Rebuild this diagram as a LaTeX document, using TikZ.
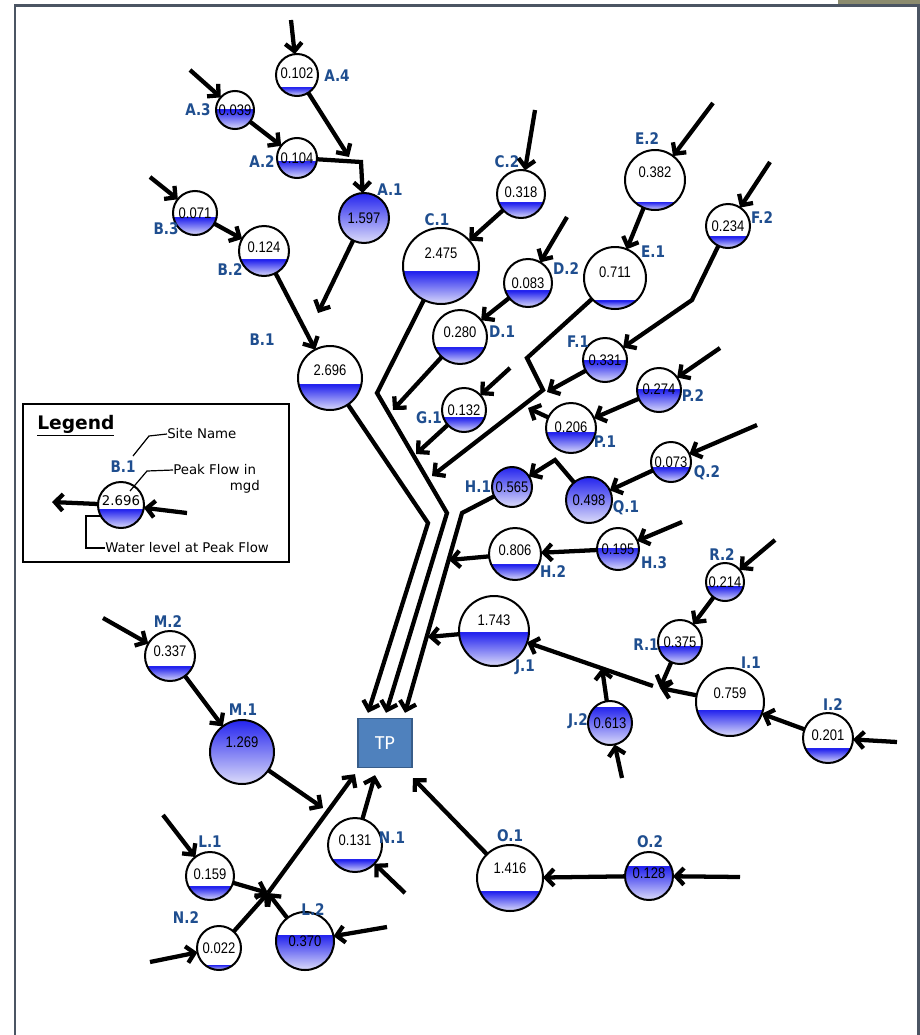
\documentclass[tikz,border=0pt]{standalone}
\usepackage{fontspec}
\usetikzlibrary{arrows.meta,calc}
\setmainfont{DejaVu Sans}
\newfontfamily\valfont[FakeStretch=0.85]{Liberation Sans}
\newfontfamily\labfont[FakeStretch=0.85]{DejaVu Sans}
\newfontfamily\tpfont{Carlito}
\definecolor{labblue}{HTML}{1F4E8F}
\definecolor{wtop}{HTML}{2424EE}
\definecolor{wbot}{HTML}{DCDCFA}
\definecolor{framec}{HTML}{4B5563}
\definecolor{topbar}{HTML}{8B8B6E}
\definecolor{tpfill}{HTML}{4F81BD}
\definecolor{tpdraw}{HTML}{385D8A}
\tikzset{
  site/.style={circle,draw=black,line width=1.5pt,inner sep=0pt,outer sep=0pt},
  val/.style={font=\valfont\fontsize{11.5}{12}\selectfont,inner sep=0pt},
  labs/.style={font=\labfont\bfseries\fontsize{12}{13}\selectfont,text=labblue,inner sep=0pt},
  water/.style={top color=wtop,bottom color=wbot},
  flow/.style={line width=3.2pt,-{Straight Barb[length=6pt,width=12.5pt]}},
  ptr/.style={line width=0.9pt},
  lgtxt/.style={font=\fontsize{10}{12}\selectfont,inner sep=0pt},
  tpbox/.style={draw=tpdraw,fill=tpfill,line width=1pt,minimum width=40.5pt,minimum height=36.75pt,text=white,font=\tpfont\fontsize{15}{16}\selectfont},
  frame/.style={draw=framec,line width=1.8pt}
}
% #1 name, #2 x, #3 y, #4 radius, #5 water level, #6 value, #7 text dy
\newcommand\mksite[7]{%
  \begin{scope}
    \clip (#2,#3) circle[radius=#4];
    \shade[water] ({#2-#4},{#3+#4}) rectangle ({#2+#4},{#3+#4-2*#4*#5});
    \draw[line width=1pt,wtop] ({#2-#4},{#3+#4-2*#4*#5}) -- ({#2+#4},{#3+#4-2*#4*#5});
  \end{scope}
  \node[site,minimum size=1.5pt*#4] (#1) at (#2,#3) {};
  \node[val] (#1v) at (#2,{#3+(#7)}) {#6};
}
\newcommand\sitelab[4]{\node[labs] (#1l) at (#2,#3) {#4};}

\begin{document}
\begin{tikzpicture}[x=0.75pt,y=-0.75pt]
\useasboundingbox (0,0) rectangle (920,1035);
\fill[white] (0,0) rectangle (920,1035);
\fill[topbar] (838,0) rectangle (920,4);
\draw[frame] (15,1035) -- (15,5.5) -- (918.5,5.5) -- (918.5,1035);

% sites
\mksite{A4}{297}{75}{21}{0.2}{0.102}{-2}
\mksite{A3}{235}{110}{19}{0.5}{0.039}{0}
\mksite{A2}{297}{158}{20}{0.42}{0.104}{0}
\mksite{A1}{364}{218}{25}{1}{1.597}{0}
\mksite{B3}{195}{213}{22}{0.39}{0.071}{0}
\mksite{B2}{264}{251}{25}{0.32}{0.124}{-4}
\mksite{B1}{330}{378}{32}{0.39}{2.696}{-8}
\mksite{C2}{521}{194}{24}{0.31}{0.318}{-2}
\mksite{C1}{441}{266}{38}{0.42}{2.475}{-13}
\mksite{D2}{528}{283}{24}{0.33}{0.083}{0}
\mksite{D1}{460}{337}{27}{0.3}{0.280}{-5}
\mksite{E2}{655}{180}{30}{0.13}{0.382}{-8}
\mksite{E1}{615}{278}{31}{0.13}{0.711}{-6}
\mksite{F2}{728}{226}{22}{0.25}{0.234}{0}
\mksite{F1}{605}{360}{22}{0.48}{0.331}{0}
\mksite{P2}{659}{390}{22}{0.5}{0.274}{-1}
\mksite{P1}{571}{428}{25}{0.4}{0.206}{-1}
\mksite{G1}{464}{410}{22}{0.32}{0.132}{0}
\mksite{Q2}{671}{462}{20}{0.35}{0.073}{0}
\mksite{Q1}{589}{500}{23}{1}{0.498}{0}
\mksite{H1}{512}{487}{20}{1}{0.565}{0}
\mksite{H3}{618}{549}{21}{0.52}{0.195}{0}
\mksite{H2}{515}{554}{26}{0.29}{0.806}{-4}
\mksite{R2}{725}{582}{19}{0.37}{0.214}{0}
\mksite{R1}{680}{642}{22}{0.39}{0.375}{0}
\mksite{I1}{730}{702}{34}{0.38}{0.759}{-9}
\mksite{I2}{828}{738}{25}{0.28}{0.201}{-3}
\mksite{J1}{494}{631}{35}{0.47}{1.743}{-11}
\mksite{J2}{610}{723}{22}{0.86}{0.613}{0}
\mksite{M2}{170}{656}{25}{0.28}{0.337}{-5}
\mksite{M1}{242}{752}{32}{1}{1.269}{-10}
\mksite{L1}{210}{876}{24}{0.27}{0.159}{-2}
\mksite{N2}{219}{948}{22}{0.11}{0.022}{0}
\mksite{L2}{305}{941}{29}{0.6}{0.370}{0}
\mksite{N1}{355}{845}{27}{0.22}{0.131}{-5}
\mksite{O1}{510}{878}{33}{0.29}{1.416}{-10}
\mksite{O2}{649}{876}{24}{0.69}{0.128}{-3}

% labels
\sitelab{A4}{337}{76}{A.4}
\sitelab{A3}{198}{110}{A.3}
\sitelab{A2}{262}{162}{A.2}
\sitelab{A1}{390}{190}{A.1}
\sitelab{B3}{166}{229}{B.3}
\sitelab{B2}{230}{270}{B.2}
\sitelab{B1}{262}{340}{B.1}
\sitelab{C2}{507}{162}{C.2}
\sitelab{C1}{437}{220}{C.1}
\sitelab{D2}{566}{269}{D.2}
\sitelab{D1}{502}{332}{D.1}
\sitelab{E2}{647}{139}{E.2}
\sitelab{E1}{653}{252}{E.1}
\sitelab{F2}{762}{218}{F.2}
\sitelab{F1}{578}{342}{F.1}
\sitelab{P2}{693}{396}{P.2}
\sitelab{P1}{605}{442}{P.1}
\sitelab{G1}{429}{418}{G.1}
\sitelab{Q2}{707}{473}{Q.2}
\sitelab{Q1}{626}{508}{Q.1}
\sitelab{H1}{478}{487}{H.1}
\sitelab{H3}{654}{563}{H.3}
\sitelab{H2}{553}{572}{H.2}
\sitelab{R2}{722}{555}{R.2}
\sitelab{R1}{646}{645}{R.1}
\sitelab{I1}{751}{663}{I.1}
\sitelab{I2}{833}{705}{I.2}
\sitelab{J1}{525}{667}{J.1}
\sitelab{J2}{578}{721}{J.2}
\sitelab{M2}{168}{622}{M.2}
\sitelab{M1}{243}{710}{M.1}
\sitelab{L1}{210}{842}{L.1}
\sitelab{N2}{186}{918}{N.2}
\sitelab{L2}{313}{910}{L.2}
\sitelab{N1}{392}{838}{N.1}
\sitelab{O1}{510}{836}{O.1}
\sitelab{O2}{650}{842}{O.2}

% treatment plant
\node[tpbox] (TP) at (385,743) {TP};

% free ends and junctions
\coordinate (tA4) at (291,20);
\coordinate (tA3) at (190,70);
\coordinate (tB3) at (150,177);
\coordinate (tC2) at (535,110);
\coordinate (tD2) at (567,217);
\coordinate (tE2) at (713,103);
\coordinate (tF2) at (770,162);
\coordinate (tG1) at (510,368);
\coordinate (tP2) at (720,348);
\coordinate (tQ2) at (757,425);
\coordinate (tH3) at (682,522);
\coordinate (tR2) at (775,540);
\coordinate (tI2) at (897,742);
\coordinate (tJ2) at (622,778);
\coordinate (tM2) at (103,618);
\coordinate (tL1) at (163,815);
\coordinate (tN2) at (150,962);
\coordinate (tL2) at (387,927);
\coordinate (tN1) at (405,893);
\coordinate (tO2) at (740,877);
\coordinate (jA4) at (349,157);
\coordinate (bA2) at (361,162);
\coordinate (jA1) at (318,313);
\coordinate (bB1) at (428,523);
\coordinate (bC1a) at (377,393);
\coordinate (bC1b) at (447,513);
\coordinate (jD1) at (393,410);
\coordinate (jG1) at (416,454);
\coordinate (bE1a) at (527,358);
\coordinate (bE1b) at (543,390);
\coordinate (jE1) at (432,476);
\coordinate (jF1) at (547,392);
\coordinate (bF2) at (692,300);
\coordinate (jP1) at (528,408);
\coordinate (bQ1) at (555,460);
\coordinate (bH1) at (462,513);
\coordinate (jH2) at (449,560);
\coordinate (jJ1) at (428,637);
\coordinate (jI) at (660,688);
\coordinate (sI) at (653,686);
\coordinate (jJ2) at (602,668);
\coordinate (jM1) at (323,808);
\coordinate (jL) at (268,893);

% connectors
\draw[flow] (tA4) -- (A4);
\draw[flow] (tA3) -- (A3);
\draw[flow] (A3) -- (A2);
\draw[flow] (A4) -- (jA4);
\draw[flow] (A2) -- (bA2) -- (A1);
\draw[flow] (tB3) -- (B3);
\draw[flow] (B3) -- (B2);
\draw[flow] (A1) -- (jA1);
\draw[flow] (B2) -- (B1);
\draw[flow] (B1) -- (bB1) -- ($(TP.north)+(-17,-5)$);
\draw[flow] (tC2) -- (C2);
\draw[flow] (C2) -- (C1);
\draw[flow] (C1) -- (bC1a) -- (bC1b) -- ($(TP.north)+(1,-5)$);
\draw[flow] (tD2) -- (D2);
\draw[flow] (D2) -- (D1);
\draw[flow] (D1) -- (jD1);
\draw[flow] (tG1) -- (G1);
\draw[flow] (G1) -- (jG1);
\draw[flow] (tE2) -- (E2);
\draw[flow] (E2) -- (E1);
\draw[flow] (E1) -- (bE1a) -- (bE1b) -- (jE1);
\draw[flow] (tF2) -- (F2);
\draw[flow] (F2) -- (bF2) -- (F1);
\draw[flow] (F1) -- (jF1);
\draw[flow] (tP2) -- (P2);
\draw[flow] (P2) -- (P1);
\draw[flow] (P1) -- (jP1);
\draw[flow] (tQ2) -- (Q2);
\draw[flow] (Q2) -- (Q1);
\draw[flow] (Q1) -- (bQ1) -- (H1);
\draw[flow] (H1) -- (bH1) -- ($(TP.north)+(20,-5)$);
\draw[flow] (tH3) -- (H3);
\draw[flow] (H3) -- (H2);
\draw[flow] (H2) -- (jH2);
\draw[flow] (J1) -- (jJ1);
\draw[flow] (tR2) -- (R2);
\draw[flow] (R2) -- (R1);
\draw[flow] (R1) -- (jI);
\draw[flow] (tI2) -- (I2);
\draw[flow] (I2) -- (I1);
\draw[flow] (I1) -- (jI);
\draw[flow] (sI) -- (J1);
\draw[flow] (tJ2) -- (J2);
\draw[flow] (J2) -- (jJ2);
\draw[flow] (tM2) -- (M2);
\draw[flow] (M2) -- (M1);
\draw[flow] (M1) -- (jM1);
\draw[flow] (tL1) -- (L1);
\draw[flow] (L1) -- (jL);
\draw[flow] (tN2) -- (N2);
\draw[flow] (N2) -- (jL);
\draw[flow] (tL2) -- (L2);
\draw[flow] (L2) -- (jL);
\draw[flow] (jL) -- ($(TP.south)+(-30,6)$);
\draw[flow] (tN1) -- (N1);
\draw[flow] (N1) -- ($(TP.south)+(-10,7)$);
\draw[flow] (O1) -- ($(TP.south)+(28,10)$);
\draw[flow] (tO2) -- (O2);
\draw[flow] (O2) -- (O1);

% legend
\draw[line width=1.6pt] (23,404) rectangle (289,562);
\node[anchor=west,inner sep=0pt,font=\bfseries\fontsize{14}{16}\selectfont] (lgT) at (37,426) {\underline{Legend}};
\mksite{LG}{121}{505}{23}{0.4}{\normalfont\fontsize{10}{12}\selectfont 2.696}{-4}
\sitelab{LG}{123}{467}{B.1}
\node[lgtxt,anchor=west] (lgS) at (167,434) {Site Name};
\node[lgtxt,anchor=west] (lgP) at (173,470) {Peak Flow in};
\node[lgtxt,anchor=east] (lgM) at (260,487) {mgd};
\node[lgtxt,anchor=west] (lgW) at (105,548) {Water level at Peak Flow};
\draw[ptr] (133,456) -- (149,436) -- (lgS.west);
\draw[ptr] (130,491) -- (147,471) -- (lgP.west);
\draw[ptr] (101,516) -- (86,516) -- (86,548) -- (lgW.west);
\coordinate (lgOut) at (52,502);
\coordinate (lgIn) at (187,513);
\draw[flow] (LG) -- (lgOut);
\draw[flow] (lgIn) -- (LG);
\end{tikzpicture}
\end{document}
